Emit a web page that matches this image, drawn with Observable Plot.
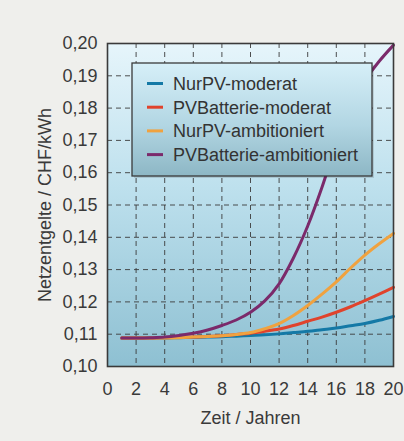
<!DOCTYPE html>
<html>
<head>
<meta charset="utf-8">
<script src="https://cdn.jsdelivr.net/npm/d3@7"></script>
<script src="https://cdn.jsdelivr.net/npm/@observablehq/plot@0.6"></script>
<style>
  html, body { margin: 0; padding: 0; background: #efefec; }
  #chart { width: 404px; height: 441px; }
  svg { font-family: "Liberation Sans", Arial, sans-serif; }
</style>
</head>
<body>
<div id="chart"></div>
<script>
const years = [1, 2, 3, 4, 5, 6, 7, 8, 9, 10, 11, 12, 13, 14, 15, 16, 17, 18, 19, 20];
const nurPVModerat =        [0.1088, 0.1088, 0.1088, 0.1088, 0.1089, 0.1090, 0.1091, 0.1092, 0.1094, 0.1096, 0.1098, 0.1101, 0.1105, 0.1109, 0.1114, 0.1119, 0.1126, 0.1133, 0.1143, 0.1155];
const pvBatterieModerat =   [0.1088, 0.1088, 0.1088, 0.1089, 0.1090, 0.1091, 0.1093, 0.1095, 0.1099, 0.1103, 0.1109, 0.1116, 0.1127, 0.1140, 0.1153, 0.1168, 0.1185, 0.1204, 0.1224, 0.1245];
const nurPVAmbitioniert =   [0.1088, 0.1088, 0.1088, 0.1088, 0.1089, 0.1091, 0.1093, 0.1095, 0.1099, 0.1105, 0.1117, 0.1133, 0.1158, 0.1189, 0.1224, 0.1262, 0.1305, 0.1345, 0.1380, 0.1412];
const pvBatterieAmbitioniert = [0.1088, 0.1088, 0.1089, 0.1091, 0.1096, 0.1103, 0.1113, 0.1127, 0.1144, 0.1168, 0.1203, 0.1256, 0.1336, 0.1435, 0.1555, 0.1690, 0.1805, 0.1885, 0.1945, 0.1995];

const seriesNames = ["NurPV-moderat", "PVBatterie-moderat", "NurPV-ambitioniert", "PVBatterie-ambitioniert"];
const seriesColors = ["#1479a6", "#e0432c", "#f0a23f", "#7b2a6b"];
const seriesValues = [nurPVModerat, pvBatterieModerat, nurPVAmbitioniert, pvBatterieAmbitioniert];

const xTicks = [0, 2, 4, 6, 8, 10, 12, 14, 16, 18, 20];
const yTicks = [0.10, 0.11, 0.12, 0.13, 0.14, 0.15, 0.16, 0.17, 0.18, 0.19, 0.20];
const xTitle = "Zeit / Jahren";
const yTitle = "Netzentgelte / CHF/kWh";

const data = [];
seriesNames.forEach((name, i) => {
  years.forEach((yr, j) => data.push({series: name, year: yr, value: seriesValues[i][j]}));
});

const fmt = v => v.toFixed(2).replace(".", ",");

const chart = Plot.plot({
  width: 404,
  height: 441,
  marginLeft: 107,
  marginRight: 11,
  marginTop: 43,
  marginBottom: 75,
  style: {background: "#efefec", fontSize: "18px", fontFamily: "'Liberation Sans', Arial, sans-serif", color: "#3a3a3a"},
  x: {domain: [0, 20], ticks: xTicks, tickSize: 0, tickPadding: 16, label: null},
  y: {domain: [0.10, 0.20], ticks: yTicks, tickSize: 0, tickPadding: 10, tickFormat: fmt, label: null},
  color: {domain: seriesNames, range: seriesColors},
  marks: [
    Plot.frame({fill: "url(#plotbg)"}),
    Plot.gridX(xTicks.slice(1, -1), {stroke: "#3c3c3c", strokeOpacity: 0.9, strokeDasharray: "5,4", strokeWidth: 1}),
    Plot.gridY(yTicks.slice(1, -1), {stroke: "#3c3c3c", strokeOpacity: 0.9, strokeDasharray: "5,4", strokeWidth: 1}),
    Plot.line(data, {x: "year", y: "value", z: "series", stroke: "series", strokeWidth: 3, curve: "catmull-rom"}),
    Plot.frame({stroke: "#3a3a3a", strokeWidth: 1.6}),
    Plot.text([xTitle], {frameAnchor: "bottom", dy: 57, fontSize: 18, fill: "#3a3a3a"}),
    Plot.text([yTitle], {frameAnchor: "left", rotate: -90, dx: -62, textAnchor: "middle", lineAnchor: "middle", fontSize: 18, fill: "#3a3a3a"})
  ]
});

const svg = d3.select(chart);
const defs = svg.insert("defs", ":first-child");
const g1 = defs.append("linearGradient").attr("id", "plotbg").attr("x1", 0).attr("x2", 0).attr("y1", 0).attr("y2", 1);
g1.append("stop").attr("offset", "0%").attr("stop-color", "#e6f5fb");
g1.append("stop").attr("offset", "45%").attr("stop-color", "#bde0ed");
g1.append("stop").attr("offset", "100%").attr("stop-color", "#8ec0d2");
const g2 = defs.append("linearGradient").attr("id", "legbg").attr("x1", 0).attr("x2", 0).attr("y1", 0).attr("y2", 1);
g2.append("stop").attr("offset", "0%").attr("stop-color", "#d6eff8");
g2.append("stop").attr("offset", "55%").attr("stop-color", "#b2d6e3");
g2.append("stop").attr("offset", "100%").attr("stop-color", "#8db7c5");

// legend inside plot area
const lx = 132, ly = 63, lw = 240, lh = 113;
const leg = svg.append("g").attr("class", "legend").attr("text-anchor", "start");
leg.append("rect").attr("x", lx + 2).attr("y", ly + 2).attr("width", lw).attr("height", lh).attr("fill", "#000").attr("fill-opacity", 0.12);
leg.append("rect").attr("x", lx).attr("y", ly).attr("width", lw).attr("height", lh)
  .attr("fill", "url(#legbg)").attr("stroke", "#3a3a3a").attr("stroke-width", 1.3);
seriesNames.forEach((name, i) => {
  const cy = 83.5 + i * 23.7;
  leg.append("line").attr("x1", 147).attr("x2", 163).attr("y1", cy).attr("y2", cy)
    .attr("stroke", seriesColors[i]).attr("stroke-width", 3);
  leg.append("text").attr("x", 173).attr("y", cy).attr("dy", "0.36em")
    .attr("text-anchor", "start").attr("font-size", 18).attr("fill", "#333").text(name);
});

document.getElementById("chart").appendChild(chart);
</script>
</body>
</html>
